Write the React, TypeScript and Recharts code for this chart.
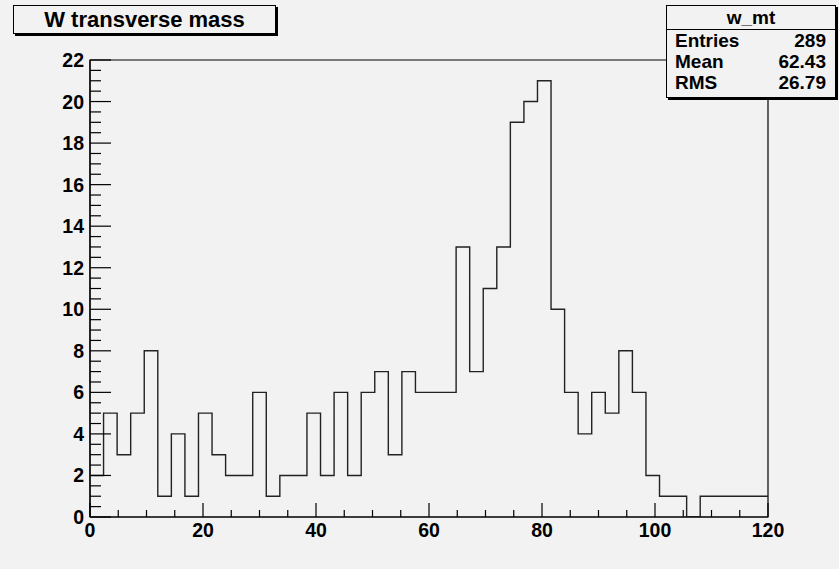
import { ComposedChart, Line, XAxis, YAxis, ReferenceArea } from 'recharts';

const TITLE = 'W transverse mass';
const HIST_NAME = 'w_mt';
const statLabels = ['Entries', 'Mean', 'RMS'];
const statValues = ['289', '62.43', '26.79'];

// 50 bins of width 2.4 from 0 to 120
const X_MIN = 0;
const X_MAX = 120;
const Y_MAX = 22;
const BIN_WIDTH = 2.4;
const binCounts = [
  2, 5, 3, 5, 8, 1, 4, 1, 5, 3,
  2, 2, 6, 1, 2, 2, 5, 2, 6, 2,
  6, 7, 3, 7, 6, 6, 6, 13, 7, 11,
  13, 19, 20, 21, 10, 6, 4, 6, 5, 8,
  6, 2, 1, 1, 0, 1, 1, 1, 1, 1,
];

const xMajorTicks = [0, 20, 40, 60, 80, 100, 120];
const yMajorTicks = [0, 2, 4, 6, 8, 10, 12, 14, 16, 18, 20, 22];
const X_MINOR_STEP = 5;
const Y_MINOR_STEP = 0.5;

const FONT = '"Liberation Sans", Arial, Helvetica, sans-serif';
const BG = '#f2f2f2';

const xTicks = Array.from({ length: (X_MAX - X_MIN) / X_MINOR_STEP + 1 }, (_, i) => X_MIN + i * X_MINOR_STEP);
const yTicks = Array.from({ length: Y_MAX / Y_MINOR_STEP + 1 }, (_, i) => i * Y_MINOR_STEP);

// step outline: one point per lower bin edge, plus the upper edge of the last bin
const histData = binCounts
  .map((c, i) => ({ x: X_MIN + i * BIN_WIDTH, count: c }))
  .concat([{ x: X_MAX, count: binCounts[binCounts.length - 1] }]);

function XTick(props: any) {
  const { x, y, payload } = props;
  const major = xMajorTicks.includes(payload.value);
  return (
    <g>
      <line x1={x} x2={x} y1={y} y2={y - (major ? 14 : 7)} stroke="#000" strokeWidth={1.2} />
      {major && (
        <text x={x} y={y + 20} textAnchor="middle" fontFamily={FONT} fontWeight="bold" fontSize={19.5} fill="#000">
          {payload.value}
        </text>
      )}
    </g>
  );
}

function YTick(props: any) {
  const { x, y, payload } = props;
  const major = yMajorTicks.includes(payload.value);
  return (
    <g>
      <line x1={x} x2={x + (major ? 21 : 11)} y1={y} y2={y} stroke="#000" strokeWidth={1.2} />
      {major && (
        <text x={x - 6} y={y + 7} textAnchor="end" fontFamily={FONT} fontWeight="bold" fontSize={19.5} fill="#000">
          {payload.value}
        </text>
      )}
    </g>
  );
}

const boxStyle: React.CSSProperties = {
  position: 'absolute',
  background: BG,
  border: '1px solid #000',
  boxShadow: '2px 2px 0 #000',
  fontFamily: FONT,
  fontWeight: 'bold',
  color: '#000',
  boxSizing: 'border-box',
};

export default function App() {
  return (
    <div style={{ position: 'absolute', left: 0, top: 0, width: 839, height: 569, background: BG, overflow: 'hidden' }}>
      <ComposedChart
        width={839}
        height={569}
        data={histData}
        margin={{ top: 60, right: 71, bottom: 22, left: 30 }}
      >
        <XAxis
          type="number"
          dataKey="x"
          domain={[X_MIN, X_MAX]}
          ticks={xTicks}
          interval={0}
          height={30}
          tickSize={0}
          tickMargin={0}
          tickLine={false}
          axisLine={{ stroke: '#000', strokeWidth: 1.2 }}
          tick={<XTick />}
          allowDataOverflow
        />
        <YAxis
          type="number"
          domain={[0, Y_MAX]}
          ticks={yTicks}
          interval={0}
          width={60}
          tickSize={0}
          tickMargin={0}
          tickLine={false}
          axisLine={{ stroke: '#000', strokeWidth: 1.2 }}
          tick={<YTick />}
          allowDataOverflow
        />
        <ReferenceArea x1={X_MIN} x2={X_MAX} y1={0} y2={Y_MAX} fill="none" stroke="#000" strokeWidth={1.2} />
        <Line
          type="stepAfter"
          dataKey="count"
          stroke="#222"
          strokeWidth={1.4}
          dot={false}
          activeDot={false}
          isAnimationActive={false}
        />
      </ComposedChart>

      <div
        style={{
          ...boxStyle,
          left: 13,
          top: 5,
          width: 263,
          height: 29,
          fontSize: 22,
          lineHeight: '27px',
          textAlign: 'center',
        }}
      >
        {TITLE}
      </div>

      <div style={{ ...boxStyle, left: 666, top: 5, width: 170, height: 93, fontSize: 19 }}>
        <div style={{ height: 23, lineHeight: '23px', textAlign: 'center', borderBottom: '1px solid #000' }}>
          {HIST_NAME}
        </div>
        {statLabels.map((label, i) => (
          <div
            key={label}
            style={{ display: 'flex', justifyContent: 'space-between', padding: '0 9px 0 8px', height: 21, lineHeight: '21px' }}
          >
            <span>{label}</span>
            <span>{statValues[i]}</span>
          </div>
        ))}
      </div>
    </div>
  );
}
